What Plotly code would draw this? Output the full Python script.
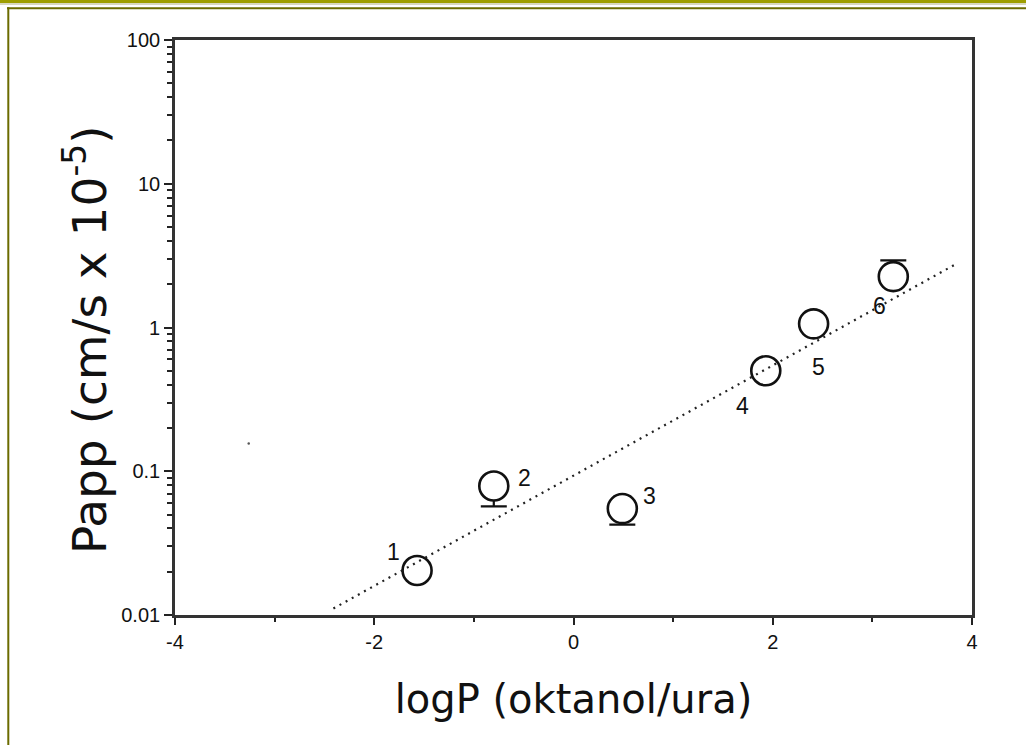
import math
import plotly.graph_objects as go

# ---- data ----
compound_labels = ["1", "2", "3", "4", "5", "6"]
logp = [-1.57, -0.80, 0.49, 1.93, 2.41, 3.21]
papp = [0.0204, 0.079, 0.055, 0.50, 1.06, 2.26]
err_plus = [0, 0, 0, 0, 0, 0.67]
err_minus = [0, 0.022, 0.0125, 0, 0, 0]

fit_x = [-2.41, 3.85]
fit_y = [0.0111, 2.79]

stray_x = [-3.26]
stray_y = [0.156]

x_tickvals = [-4, -2, 0, 2, 4]
x_ticktext = ["-4", "-2", "0", "2", "4"]
y_tickvals = [0.01, 0.1, 1, 10, 100]
y_ticktext = ["0.01", "0.1", "1", "10", "100"]

x_title = "logP (oktanol/ura)"
y_title = "Papp (cm/s x 10<sup>-5</sup>)"

# label offsets in pixels (layout only)
label_shift = [(-24, 18), (31, 8), (27, 13), (-23, -35), (5, -43), (-14, -29)]

W, H = 1026, 745
L, R, T, B = 175, 54, 40, 130
pw, ph = W - L - R, H - T - B

fig = go.Figure()

fig.add_trace(go.Scatter(
    x=logp, y=papp, mode="markers",
    marker=dict(symbol="circle", size=29, color="white",
                line=dict(color="#111", width=2.6)),
    error_y=dict(type="data", symmetric=False, array=err_plus,
                 arrayminus=err_minus, color="#111", thickness=2.2, width=13),
    showlegend=False, hoverinfo="skip",
))

fig.add_trace(go.Scatter(
    x=fit_x, y=fit_y, mode="lines",
    line=dict(color="#222", width=2.2, dash="2px,5px"),
    showlegend=False, hoverinfo="skip",
))

fig.add_trace(go.Scatter(
    x=stray_x, y=stray_y, mode="markers",
    marker=dict(size=2.5, color="#555"),
    showlegend=False, hoverinfo="skip",
))

for lab, xv, yv, (dx, dy) in zip(compound_labels, logp, papp, label_shift):
    fig.add_annotation(x=xv, y=math.log10(yv), text=lab, showarrow=False,
                       xshift=dx, yshift=dy,
                       font=dict(family="Liberation Sans", size=23, color="#111"))

def px_x(p):
    return (p - L) / pw

def px_y(p):
    return (H - B - p) / ph

# y-axis title as rotated annotation
fig.add_annotation(xref="paper", yref="paper", x=px_x(86), y=px_y(340),
                   text=y_title, textangle=-90, showarrow=False,
                   xanchor="center", yanchor="middle",
                   font=dict(family="DejaVu Sans", size=47, color="#111"))

shapes = [
    dict(type="rect", xref="paper", yref="paper",
         x0=px_x(0), x1=px_x(W), y0=px_y(0), y1=px_y(3),
         fillcolor="#9e9e00", line=dict(width=0), layer="above"),
    dict(type="rect", xref="paper", yref="paper",
         x0=px_x(0), x1=px_x(W), y0=px_y(3), y1=px_y(5),
         fillcolor="#d8d8c0", line=dict(width=0), layer="above"),
    dict(type="rect", xref="paper", yref="paper",
         x0=px_x(7), x1=px_x(W), y0=px_y(7.3), y1=px_y(9.3),
         fillcolor="#6b6b00", line=dict(width=0), layer="above"),
    dict(type="rect", xref="paper", yref="paper",
         x0=px_x(7.3), x1=px_x(9.3), y0=px_y(7.3), y1=px_y(H),
         fillcolor="#6b6b00", line=dict(width=0), layer="above"),
]

fig.update_layout(
    width=W, height=H,
    margin=dict(l=L, r=R, t=T, b=B, autoexpand=False),
    paper_bgcolor="white", plot_bgcolor="white",
    shapes=shapes,
    xaxis=dict(
        range=[-4, 4], tickmode="array", tickvals=x_tickvals, ticktext=x_ticktext,
        ticks="outside", ticklen=7, tickwidth=2, tickcolor="#222",
        minor=dict(ticks="outside", ticklen=4, tickwidth=2, tickcolor="#222", dtick=1),
        showgrid=False, zeroline=False,
        showline=True, linecolor="#333", linewidth=2.6, mirror=True,
        tickfont=dict(family="Liberation Sans", size=20, color="#111"),
        title=dict(text=x_title,
                   font=dict(family="DejaVu Sans", size=40, color="#111"),
                   standoff=34),
    ),
    yaxis=dict(
        type="log", range=[-2, 2], tickmode="array", tickvals=y_tickvals,
        ticktext=y_ticktext,
        ticks="outside", ticklen=8, tickwidth=2, tickcolor="#222",
        minor=dict(ticks="outside", ticklen=5, tickwidth=1.6, tickcolor="#222", dtick="D1"),
        showgrid=False, zeroline=False,
        showline=True, linecolor="#333", linewidth=2.6, mirror=True,
        tickfont=dict(family="Liberation Sans", size=20, color="#111"),
    ),
)

fig.write_html("out.html",
               config={"displayModeBar": False},
               post_script="document.body.style.margin='0';document.body.style.padding='0';")
